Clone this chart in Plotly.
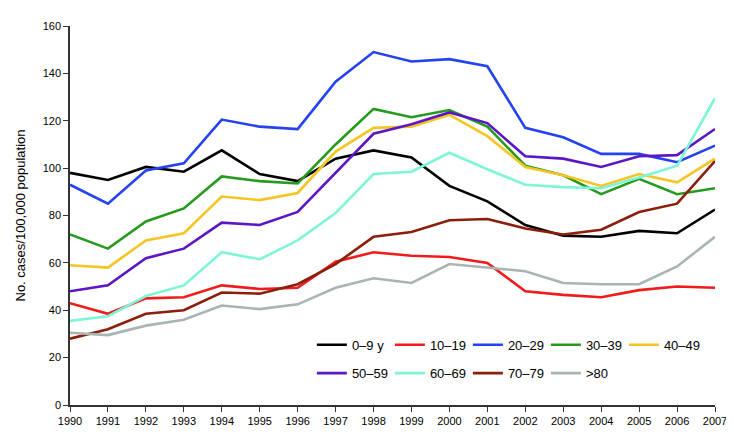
import plotly.graph_objects as go

years = list(range(1990, 2008))

age_groups = ["0–9 y", "10–19", "20–29", "30–39", "40–49",
              "50–59", "60–69", "70–79", ">80"]

age_0_9 = [98, 95, 100.5, 98.5, 107.5, 97.5, 94.5, 104, 107.5, 104.5, 92.5, 86, 76, 71.5, 71, 73.5, 72.5, 82.5]
age_10_19 = [43, 38.5, 45, 45.5, 50.5, 49, 49.5, 60.5, 64.5, 63, 62.5, 60, 48, 46.5, 45.5, 48.5, 50, 49.5]
age_20_29 = [93, 85, 99, 102, 120.5, 117.5, 116.5, 136.5, 149, 145, 146, 143, 117, 113, 106, 106, 102.5, 109.5]
age_30_39 = [72, 66, 77.5, 83, 96.5, 94.5, 93.5, 110, 125, 121.5, 124.5, 117.5, 101, 97, 89, 95.5, 89, 91.5]
age_40_49 = [59, 58, 69.5, 72.5, 88, 86.5, 89.5, 107, 117, 117.5, 122.5, 113.5, 100.5, 97, 92.5, 97.5, 94, 104]
age_50_59 = [48, 50.5, 62, 66, 77, 76, 81.5, 98, 114.5, 118.5, 123.5, 119, 105, 104, 100.5, 105, 105.5, 116.5]
age_60_69 = [35.5, 37.5, 46, 50.5, 64.5, 61.5, 69.5, 81, 97.5, 98.5, 106.5, 99.5, 93, 92, 91.5, 96, 101, 129.5]
age_70_79 = [28, 32, 38.5, 40, 47.5, 47, 51, 59.5, 71, 73, 78, 78.5, 74.5, 72, 74, 81.5, 85, 103]
age_80_up = [30.5, 29.5, 33.5, 36, 42, 40.5, 42.5, 49.5, 53.5, 51.5, 59.5, 58, 56.5, 51.5, 51, 51, 58.5, 71]

series = [age_0_9, age_10_19, age_20_29, age_30_39, age_40_49,
          age_50_59, age_60_69, age_70_79, age_80_up]

colors = ["#000000", "#f01c1c", "#2542f0", "#259a1c", "#f5c623",
          "#5c17c4", "#7ff5d8", "#8c1f0c", "#a8b5b3"]

fig = go.Figure()

# first five entries in the top legend row, the rest in a second legend
for i, (name, vals) in enumerate(zip(age_groups, series)):
    fig.add_trace(go.Scatter(
        x=years, y=vals, name=name, mode="lines",
        line=dict(color=colors[i], width=2.6),
        legend="legend" if i < 5 else "legend2",
    ))

# entrywidth is the text part only (symbol + gaps add ~45px)
legend_style = dict(
    orientation="h", xanchor="left", yanchor="middle",
    entrywidth=33, entrywidthmode="pixels",
    font=dict(size=13, color="#000"), bgcolor="rgba(0,0,0,0)",
    itemclick=False,
)

fig.update_layout(
    width=734, height=441,
    margin=dict(l=59, r=27, t=15, b=44),
    plot_bgcolor="white", paper_bgcolor="white",
    font=dict(family="Liberation Sans, Arial, sans-serif", color="#000"),
    showlegend=True,
    legend=dict(x=0.375, y=0.159, **legend_style),
    legend2=dict(x=0.375, y=0.084, **legend_style),
)

fig.update_xaxes(
    range=[1990, 2007], tickmode="array", tickvals=years,
    showgrid=False, zeroline=False,
    showline=True, linecolor="#333", linewidth=1.5,
    ticks="outside", ticklen=5, tickcolor="#333",
    tickfont=dict(size=11),
)
fig.update_yaxes(
    range=[0, 160], dtick=20,
    showgrid=False, zeroline=False,
    showline=True, linecolor="#333", linewidth=1.5,
    ticks="outside", ticklen=5, tickcolor="#333",
    tickfont=dict(size=11),
    title=dict(text="No. cases/100,000 population", font=dict(size=13), standoff=14),
)

fig.write_html("out.html")
